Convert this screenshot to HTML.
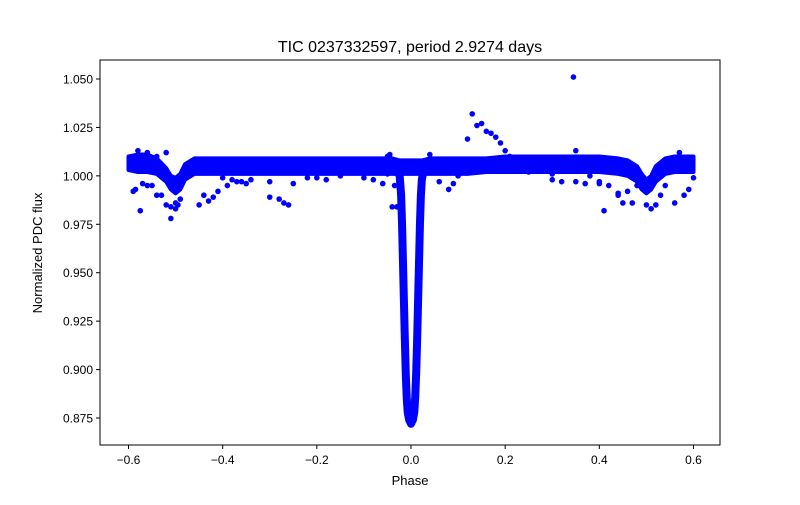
<!DOCTYPE html>
<html><head><meta charset="utf-8"><style>
body{margin:0;background:#fff;}
svg text{font-family:"Liberation Sans","DejaVu Sans",sans-serif;}
</style></head><body>
<svg id="c" width="800" height="500" xmlns="http://www.w3.org/2000/svg">
<rect width="800" height="500" fill="#fff"/>
<text x="410" y="52" font-size="16" text-anchor="middle">TIC 0237332597, period 2.9274 days</text>
<text x="410" y="485" font-size="13" text-anchor="middle">Phase</text>
<text x="42" y="253" font-size="13" text-anchor="middle" transform="rotate(-90 42 253)">Normalized PDC flux</text>
<g id="plot"></g>
<rect x="100" y="60" width="620" height="385" fill="none" stroke="#000" stroke-width="1"/>
</svg>
<script>
const xTicks=[-0.6,-0.4,-0.2,0.0,0.2,0.4,0.6];
const yTicks=[0.875,0.900,0.925,0.950,0.975,1.000,1.025,1.050];
const bandPhase=[-0.6,-0.58,-0.56,-0.54,-0.52,-0.51,-0.5,-0.49,-0.48,-0.46,-0.44,-0.4,-0.36,-0.32,-0.28,-0.24,-0.2,-0.16,-0.12,-0.08,-0.04,-0.025,0.025,0.04,0.08,0.12,0.16,0.2,0.24,0.28,0.32,0.36,0.4,0.44,0.46,0.48,0.49,0.5,0.51,0.52,0.54,0.56,0.58,0.6];
const bandUpper=[1.010,1.011,1.011,1.009,1.004,1.000,0.999,1.001,1.006,1.009,1.009,1.009,1.009,1.009,1.009,1.009,1.009,1.009,1.009,1.009,1.009,1.008,1.008,1.009,1.009,1.009,1.009,1.010,1.010,1.010,1.010,1.010,1.010,1.009,1.008,1.005,1.001,0.998,1.000,1.005,1.009,1.010,1.010,1.010];
const bandLower=[1.003,1.002,1.002,1.001,0.997,0.993,0.991,0.993,0.998,1.001,1.001,1.001,1.001,1.001,1.001,1.001,1.001,1.001,1.001,1.001,1.001,1.001,1.001,1.001,1.001,1.001,1.002,1.002,1.002,1.002,1.002,1.002,1.002,1.001,1.000,0.997,0.993,0.991,0.993,0.997,1.001,1.002,1.002,1.002];
const eclPhase=[-0.03,-0.024,-0.021,-0.019,-0.017,-0.015,-0.013,-0.011,-0.009,-0.007,-0.004,0.0,0.004,0.007,0.009,0.011,0.013,0.015,0.017,0.019,0.021,0.023,0.026,0.03];
const eclFlux=[1.003,1.000,0.990,0.975,0.955,0.935,0.915,0.897,0.885,0.878,0.874,0.872,0.874,0.878,0.886,0.898,0.915,0.935,0.955,0.975,0.990,0.998,1.002,1.004];
const scPhase=[-0.59,-0.585,-0.575,-0.57,-0.56,-0.55,-0.54,-0.53,-0.52,-0.51,-0.5,-0.495,-0.58,-0.56,-0.54,-0.52,-0.51,-0.5,-0.49,-0.45,-0.43,-0.41,-0.39,-0.37,-0.35,-0.3,-0.28,-0.27,-0.26,-0.25,-0.22,-0.15,-0.1,-0.08,-0.06,-0.04,-0.03,-0.035,-0.045,-0.05,0.04,0.06,0.08,0.1,0.12,0.13,0.14,0.15,0.16,0.17,0.18,0.19,0.2,0.21,0.22,0.25,0.3,0.345,0.35,0.38,0.4,0.41,0.42,0.44,0.45,0.47,0.48,0.5,0.51,0.52,0.53,0.54,0.56,0.58,0.59,0.6,0.57,0.55,-0.05,-0.1,0.09,0.0,-0.4,-0.38,-0.36,-0.34,-0.3,-0.2,-0.18,0.3,0.32,0.35,0.37,0.4,-0.44,-0.42,0.44,0.46];
const scFlux=[0.992,0.993,0.982,0.996,0.995,0.995,0.990,0.990,0.985,0.984,0.986,0.985,1.013,1.012,1.010,1.012,0.978,0.983,0.988,0.985,0.987,0.992,0.995,0.997,0.996,0.989,0.988,0.986,0.985,0.996,0.999,1.000,0.999,0.998,0.996,0.984,0.984,0.995,1.011,1.010,1.011,0.997,0.993,1.000,1.019,1.032,1.026,1.027,1.023,1.022,1.020,1.017,1.013,1.010,1.009,1.002,1.001,1.051,1.013,1.000,0.996,0.982,0.995,0.990,0.986,0.986,0.995,0.985,0.983,0.985,0.990,0.995,0.986,0.990,0.993,0.999,1.012,1.009,1.001,1.001,0.996,1.002,0.999,0.998,0.997,0.998,0.997,0.999,0.998,0.998,0.997,0.997,0.996,0.997,0.990,0.989,0.991,0.992];
const X0=100,X1=720,Y0=60,Y1=445;
function xs(v){return 128.5+(v+0.6)*(693.5-128.5)/1.2;}
function ys(v){return 418+(0.875-v)*(418-79)/0.175;}
const NS='http://www.w3.org/2000/svg';
const svg=document.getElementById('c'),plot=document.getElementById('plot');
function mk(t,a,p){const e=document.createElementNS(NS,t);for(const k in a)e.setAttribute(k,a[k]);(p||svg).appendChild(e);return e;}
xTicks.forEach(t=>{const x=xs(t);
 const l=mk('line',{x1:x,x2:x,y1:Y1,y2:Y1+4,stroke:'#000'});
 
 
 const tx=mk('text',{x:x,y:Y1+19,'font-size':12,'text-anchor':'middle'});tx.textContent=t.toFixed(1).replace('-','\u2212');
 
 });
yTicks.forEach(t=>{const y=ys(t);
 const l=mk('line',{x1:X0-4,x2:X0,y1:y,y2:y,stroke:'#000'});
 
 
 const tx=mk('text',{x:X0-7,y:y+4.5,'font-size':12,'text-anchor':'end'});tx.textContent=t.toFixed(3);
 
 });
const bandPts=bandPhase.map((p,i)=>xs(p)+','+ys(bandUpper[i])).concat(bandPhase.map((p,i)=>xs(p)+','+ys(bandLower[i])).reverse()).join(' ');
const band=mk('polygon',{points:bandPts,fill:'#0000ff',stroke:'#0000ff','stroke-width':4,'stroke-linejoin':'round'},plot);


function line(px,py,w,name){const pts=px.map((p,i)=>xs(p)+','+ys(py[i])).join(' ');
 const e=mk('polyline',{points:pts,fill:'none',stroke:'#0000ff','stroke-width':w,'stroke-linejoin':'round','stroke-linecap':'round'},plot);
 
 }
line(eclPhase,eclFlux,8,'primary-eclipse');
scPhase.forEach((p,i)=>{const c=mk('circle',{cx:xs(p),cy:ys(scFlux[i]),r:2.8,fill:'#0000ff'},plot);
 
 });
</script>
</body></html>
